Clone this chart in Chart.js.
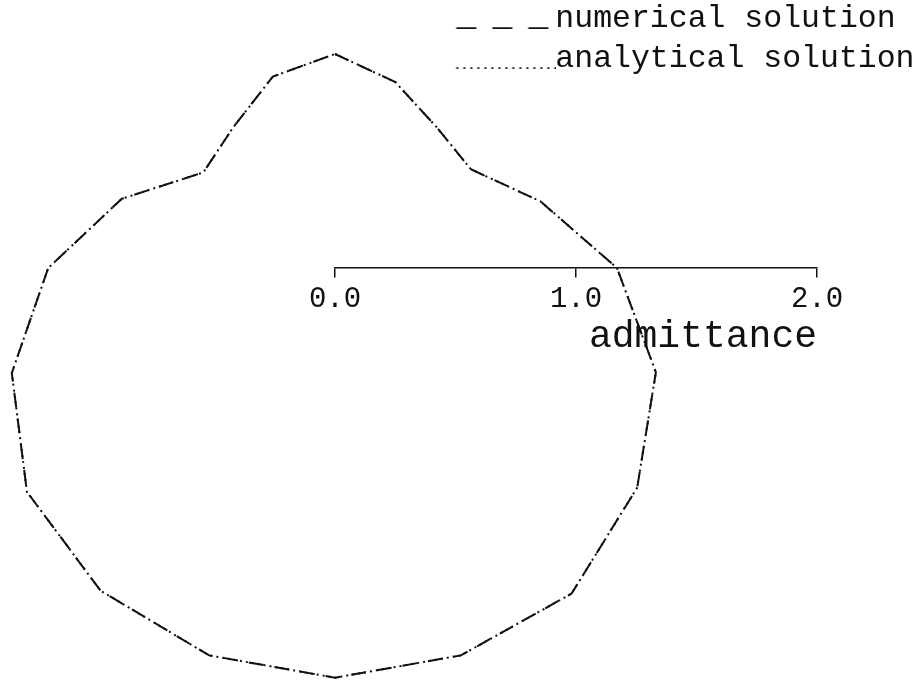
<!DOCTYPE html>
<html>
<head>
<meta charset="utf-8">
<title>admittance</title>
<script src="https://cdn.jsdelivr.net/npm/chart.js@4/dist/chart.umd.min.js"></script>
<style>
  html, body { margin: 0; padding: 0; background: #fff; }
  #wrap { width: 924px; height: 680px; }
</style>
</head>
<body>
<div id="wrap"><canvas id="admittanceChart" width="924" height="680"></canvas></div>
<script>
// polar samples, every 18 degrees, clockwise from the top
const angles = [90, 72, 54, 36, 18, 0, -18, -36, -54, -72, -90, -108, -126, -144, -162, -180, -198, -216, -234, -252];
const numerical = [0.888, 0.811, 0.72, 0.697, 0.896, 1.17, 1.40, 1.55, 1.67, 1.69, 1.70, 1.69, 1.655, 1.58, 1.41, 1.19, 0.93, 0.675, 0.72, 0.835];
const analytical = [0.888, 0.811, 0.72, 0.697, 0.896, 1.17, 1.40, 1.55, 1.67, 1.69, 1.70, 1.69, 1.655, 1.58, 1.41, 1.19, 0.93, 0.675, 0.72, 0.835];
const seriesNames = ['numerical solution', 'analytical solution'];
const radialTicks = [0, 1, 2];
const axisTitle = 'admittance';

const INK = '#111';
const MONO = "'Liberation Mono', 'Courier New', monospace";
const LEGEND_SIZE = 31.5;
const KEY_WIDTH = 83;

// r(theta) -> x/y so the linear scales can place it
function toPoints(radii) {
    const pts = radii.map((r, i) => {
        const a = angles[i] * Math.PI / 180;
        return { x: r * Math.cos(a), y: r * Math.sin(a) };
    });
    pts.push({ x: pts[0].x, y: pts[0].y }); // close the loop
    return pts;
}

// legend key: a stroke on the text baseline that runs up to the label
function legendKey(dash) {
    const gap = LEGEND_SIZE / 2;
    const c = document.createElement('canvas');
    c.width = Math.round(KEY_WIDTH + 2 * gap);
    c.height = 22;
    const g = c.getContext('2d');
    g.strokeStyle = INK;
    g.lineWidth = 2;
    g.setLineDash(dash);
    g.beginPath();
    g.moveTo(gap, 21);
    g.lineTo(c.width, 21);
    g.stroke();
    return c;
}

const lineDefaults = {
    showLine: true,
    borderColor: INK,
    backgroundColor: INK,
    borderWidth: 2,
    pointRadius: 0,
    pointHoverRadius: 0,
    fill: false,
    clip: false
};

new Chart(document.getElementById('admittanceChart'), {
    type: 'scatter',
    data: {
        datasets: [{
            ...lineDefaults,
            label: seriesNames[0],
            data: toPoints(numerical),
            borderDash: [15, 11],
            pointStyle: legendKey([20, 16])
        }, {
            ...lineDefaults,
            label: seriesNames[1],
            data: toPoints(analytical),
            borderDash: [2, 4],
            pointStyle: legendKey([2, 5])
        }]
    },
    options: {
        responsive: false,
        animation: false,
        events: [],
        layout: {
            padding: { left: 335, right: 1, top: -6, bottom: 0 }
        },
        plugins: {
            tooltip: { enabled: false },
            legend: {
                position: 'top',
                align: 'end',
                labels: {
                    color: INK,
                    font: { family: MONO, size: LEGEND_SIZE },
                    padding: 8.5,
                    usePointStyle: true,
                    pointStyleWidth: KEY_WIDTH,
                    // pad names to one length so the rows start at the same x
                    generateLabels(chart) {
                        const items = Chart.defaults.plugins.legend.labels.generateLabels(chart);
                        const len = Math.max(...items.map(it => it.text.length));
                        items.forEach(it => { it.text = it.text.padEnd(len); });
                        return items;
                    }
                }
            }
        },
        scales: {
            x: {
                type: 'linear',
                position: { y: 0 },
                min: radialTicks[0],
                max: radialTicks[radialTicks.length - 1],
                afterBuildTicks: (scale) => {
                    scale.ticks = radialTicks.map(v => ({ value: v }));
                },
                ticks: {
                    color: INK,
                    font: { family: MONO, size: 29, lineHeight: 1 },
                    padding: 8,
                    maxRotation: 0,
                    callback: (v) => v.toFixed(1)
                },
                grid: {
                    drawOnChartArea: false,
                    tickLength: 9,
                    color: INK,
                    lineWidth: 1.5
                },
                border: { color: INK, width: 1.5 },
                title: {
                    display: true,
                    text: axisTitle,
                    align: 'end',
                    color: INK,
                    font: { family: MONO, size: 38, lineHeight: 1 },
                    padding: { top: -4, bottom: 0 }
                }
            },
            y: {
                type: 'linear',
                position: 'right',
                // same pixels per unit as x, origin on the axis line
                min: -1.7095,
                max: 0.7635,
                ticks: { display: false },
                grid: { display: false },
                border: { display: false },
                afterFit: (scale) => { scale.width = 106; }
            }
        }
    }
});
</script>
</body>
</html>
